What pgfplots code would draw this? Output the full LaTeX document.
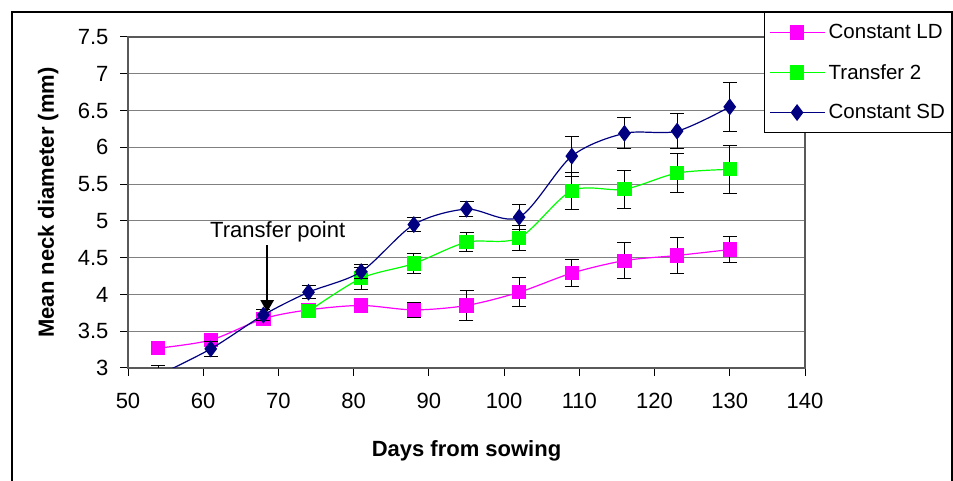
\documentclass[border=0pt]{standalone}
\usepackage{pgfplots}
\pgfplotsset{compat=1.18}
\usepackage{fontspec}
\setmainfont{Liberation Sans}
\usetikzlibrary{arrows.meta}
\definecolor{ldmag}{RGB}{255,0,255}
\definecolor{trgreen}{RGB}{0,255,0}
\definecolor{sdnavy}{RGB}{0,0,128}
\begin{document}
\begin{tikzpicture}[x=1pt,y=1pt]
\useasboundingbox (0,0) rectangle (953,481);
\fill[white] (0,0) rectangle (953,481);
\draw[line width=1.3pt] (12,-10) -- (12,469) -- (952,469) -- (952,-10);
\begin{axis}[
    at={(128pt,113pt)}, anchor=south west,
    scale only axis, width=677pt, height=331pt,
    xmin=50, xmax=140, ymin=3, ymax=7.5,
    xtick={50,60,70,80,90,100,110,120,130,140},
    ytick={3,3.5,4,4.5,5,5.5,6,6.5,7,7.5},
    /pgf/number format/assume math mode=true,
    yticklabel style={/pgf/number format/fixed, xshift=-8pt},
    xticklabel style={yshift=-14pt},
    tick label style={font=\fontsize{22}{26}\selectfont},
    label style={font=\bfseries\fontsize{22}{26}\selectfont},
    xlabel={Days from sowing},
    ylabel={Mean neck diameter (mm)},
    xlabel style={at={(axis description cs:0.5,-0.25)}, anchor=center},
    ylabel style={at={(axis description cs:-0.118,0.5)}, anchor=center},
    axis line style={gray!70!black, line width=1.2pt},
    tick style={black, line width=1pt},
    tick align=outside, major tick length=8pt,
    xtick pos=bottom, ytick pos=left,
    ymajorgrids, grid style={gray, line width=1.2pt},
    clip marker paths=true,
    legend style={at={(axis description cs:0.9394,1.0755)}, anchor=north west,
        draw=black, line width=1pt, fill=white,
        font=\fontsize{20.5}{24}\selectfont,
        inner xsep=5pt, inner ysep=10pt, row sep=20pt,
        /tikz/every odd column/.append style={column sep=1pt}},
    legend cell align=left,
    legend image code/.code={\draw[mark repeat=2,mark phase=2,#1] plot coordinates {(0pt,0pt) (27pt,0pt) (55pt,0pt)};},
    error bars/y dir=both, error bars/y explicit,
    error bars/error bar style={black, line width=1pt},
    error bars/error mark options={rotate=90, black, mark size=7pt, line width=1pt},
]
\addplot[ldmag, line width=1.2pt, smooth, mark=square*, mark size=6.5pt,
    mark options={solid, fill=ldmag, draw=ldmag}]
    table[x=x, y=y, y error=e] {
x y e
54 3.27 0.09
61 3.38 0.08
68 3.67 0.05
74 3.79 0.05
81 3.85 0.09
88 3.79 0.10
95 3.85 0.20
102 4.03 0.20
109 4.29 0.18
116 4.46 0.24
123 4.53 0.25
130 4.61 0.18
};
\addlegendentry{Constant LD}
\addplot[trgreen, line width=1.2pt, smooth, mark=square*, mark size=6.5pt,
    mark options={solid, fill=trgreen, draw=trgreen}]
    table[x=x, y=y, y error=e] {
x y e
74 3.77 0.07
81 4.22 0.15
88 4.42 0.13
95 4.71 0.13
102 4.77 0.17
109 5.41 0.25
116 5.43 0.26
123 5.65 0.26
130 5.70 0.33
};
\addlegendentry{Transfer 2}
\addplot[sdnavy, line width=1.2pt, smooth, mark=diamond*, mark size=7.5pt,
    mark options={solid, fill=sdnavy, draw=sdnavy}]
    table[x=x, y=y, y error=e] {
x y e
54 2.90 0.13
61 3.26 0.10
68 3.72 0.07
74 4.03 0.09
81 4.31 0.10
88 4.95 0.10
95 5.16 0.10
102 5.05 0.17
109 5.88 0.27
116 6.19 0.21
123 6.22 0.24
130 6.55 0.33
};
\addlegendentry{Constant SD}
\node[font=\fontsize{22}{26}\selectfont] at (axis cs:69.9,4.85) {Transfer point};
\draw[-{Triangle[length=12pt,width=13pt]}, line width=2.5pt] (axis cs:68.5,4.67) -- (axis cs:68.5,3.76);
\end{axis}
\end{tikzpicture}
\end{document}
